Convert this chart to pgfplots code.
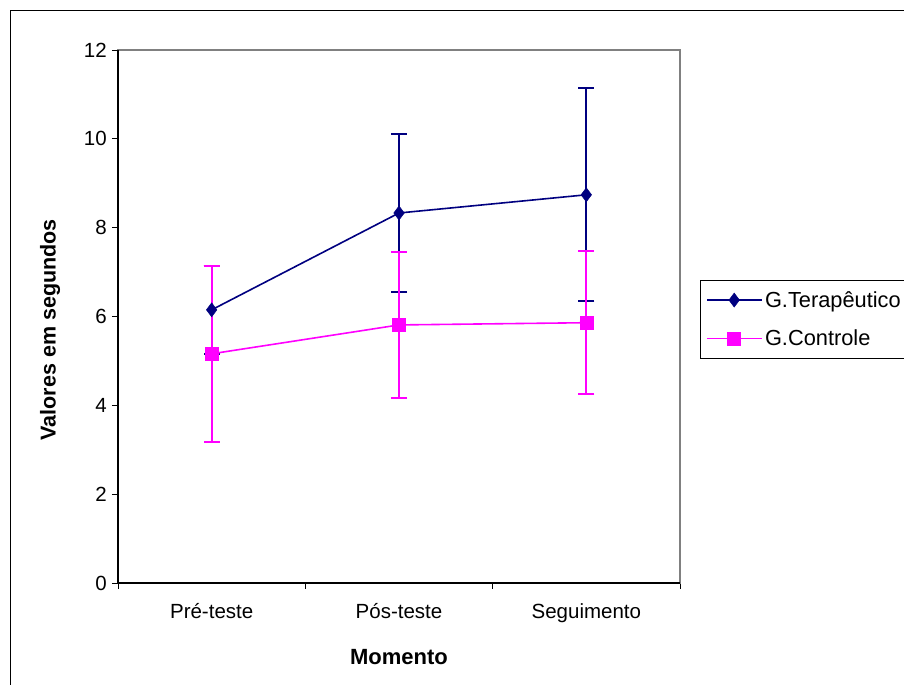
\documentclass[border=0pt]{standalone}
\usepackage{pgfplots}
\pgfplotsset{compat=1.18}
\usepackage{fontspec}
\setmainfont{Liberation Sans}
\definecolor{blueC}{HTML}{000080}
\definecolor{pinkC}{HTML}{FF00FF}
\pgfplotstableread{
x y ey
0 6.15 0.99
1 8.33 1.78
2 8.74 2.40
}\terap
\pgfplotstableread{
x y ey
0 5.16 1.98
1 5.81 1.65
2 5.86 1.61
}\contr
\begin{document}
\begin{tikzpicture}[x=1pt,y=1pt]
\useasboundingbox (0,0) rectangle (904,695);
\begin{scope}
\clip (0,0) rectangle (904,695);
\fill[white] (0,0) rectangle (904,695);
\draw[black, line width=1pt] (10,10) -- (10,684) -- (910,684);
\begin{axis}[
  at={(118pt,112pt)}, anchor=south west,
  scale only axis, width=562pt, height=533pt,
  xmin=-0.5, xmax=2.5, ymin=0, ymax=12,
  clip=false,
  font=\fontsize{20.5}{24}\selectfont,
  /pgf/number format/assume math mode=true,
  xtick={-0.5,0.5,1.5,2.5},
  x tick label as interval,
  xticklabels={Pré-teste, Pós-teste, Seguimento},
  ytick={0,2,4,6,8,10,12},
  tick align=outside,
  major tick length=6pt,
  tick style={black, line width=0.8pt},
  xtick pos=bottom, ytick pos=left,
  axis line style={draw=gray, line width=1.2pt},
  xticklabel style={anchor=north, inner sep=0pt, yshift=-14pt},
  yticklabel style={anchor=east, inner sep=0pt, xshift=-5pt},
  xlabel={\bfseries Momento},
  ylabel={\bfseries Valores em segundos},
  every axis x label/.style={at={(axis description cs:0.5,-0.139)}, anchor=center, font=\fontsize{22}{26}\selectfont},
  every axis y label/.style={at={(axis description cs:-0.121,0.475)}, rotate=90, anchor=center, font=\fontsize{21.5}{26}\selectfont},
  legend style={at={(axis description cs:1.0356,0.5685)}, anchor=north west, draw=black, line width=0.8pt, inner xsep=6pt, inner ysep=9pt, row sep=17pt, font=\fontsize{21.8}{25}\selectfont, /tikz/every even column/.append style={column sep=7pt}},
  legend cell align=left,
  legend image code/.code={\draw[mark repeat=2,mark phase=2,#1] plot coordinates {(0pt,0pt) (27pt,0pt) (55pt,0pt)};},
]
% error bars first
\addplot[blueC, line width=2.2pt, mark=none, forget plot, draw opacity=0,
  error bars/.cd, y dir=both, y explicit,
  error bar style={draw=blueC, draw opacity=1, line width=2.2pt, solid},
  error mark options={rotate=90, draw=blueC, draw opacity=1, mark size=8pt, line width=2.2pt}]
  table[x=x, y=y, y error=ey] {\terap};
\addplot[pinkC, line width=2.2pt, mark=none, forget plot, draw opacity=0,
  error bars/.cd, y dir=both, y explicit,
  error bar style={draw=pinkC, draw opacity=1, line width=2.2pt, solid},
  error mark options={rotate=90, draw=pinkC, draw opacity=1, mark size=8pt, line width=2.2pt}]
  table[x=x, y=y, y error=ey] {\contr};
\addplot[blueC, line width=1.6pt, mark=diamond*, mark size=7pt, mark options={solid, fill=blueC, draw=blueC, line width=0.5pt}]
  table[x=x, y=y] {\terap};
\addlegendentry{G.Terapêutico}
\addplot[pinkC, line width=1.6pt, mark=square*, mark size=6.5pt, mark options={solid, fill=pinkC, draw=pinkC, line width=0.5pt}]
  table[x=x, y=y] {\contr};
\addlegendentry{G.Controle}
\draw[black, line width=1.2pt] (rel axis cs:0,1) -- (rel axis cs:0,0) -- (rel axis cs:1,0);
\end{axis}
\end{scope}
\end{tikzpicture}
\end{document}
